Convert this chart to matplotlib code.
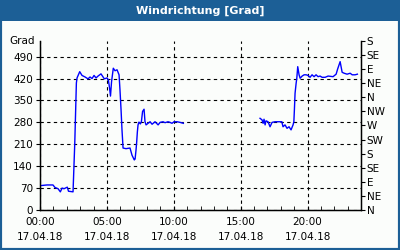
import matplotlib
matplotlib.use("Agg")
import matplotlib.pyplot as plt
import numpy as np
from matplotlib.patches import Rectangle

# hours since 00:00 and wind direction in degrees (NaN = gap)
hours = [0.05, 0.52, 0.97, 1.12, 1.35, 1.52, 1.65, 1.80, 2.04, 2.13, 2.47, 2.51, 2.60, 2.66, 2.72,
         2.77, 2.97, 3.14, 3.37, 3.59, 3.74, 3.89, 4.04, 4.19, 4.34, 4.56, 4.81, 5.01, 5.11, 5.20,
         5.27, 5.35, 5.48, 5.61, 5.76, 5.91, 5.98, 6.06, 6.13, 6.21, 6.43, 6.73, 6.88, 7.05, 7.11,
         7.18, 7.23, 7.28, 7.33, 7.40, 7.50, 7.58, 7.67, 7.78, 7.85, 7.93, 8.08, 8.23, 8.38, 8.60,
         8.83, 8.98, 9.20, 9.35, 9.57, 9.72, 9.87, 10.02, 10.25, 10.47, 10.72,
         13.5,
         16.45, 16.60, 16.68, 16.75, 16.83, 16.90, 17.05, 17.20, 17.35, 17.58, 17.80, 18.08, 18.17,
         18.32, 18.47, 18.62, 18.77, 18.92, 18.98, 19.02, 19.07, 19.15, 19.20, 19.27, 19.37, 19.45,
         19.60, 19.75, 19.90, 20.04, 20.19, 20.34, 20.49, 20.64, 20.79, 20.94, 21.09, 21.32, 21.54,
         21.91, 22.14, 22.25, 22.44, 22.59, 22.74, 22.96, 23.19, 23.34, 23.56, 23.73]
grad = [78, 80, 80, 72, 68, 58, 70, 68, 73, 60, 58, 106, 214, 310, 406,
        422, 442, 430, 425, 419, 425, 420, 430, 422, 428, 435, 419, 422, 416, 390,
        364, 410, 453, 445, 448, 432, 384, 320, 256, 198, 196, 198, 175, 160, 163,
        192, 218, 250, 272, 281, 275, 282, 315, 322, 282, 272, 277, 282, 274, 282,
        272, 280, 282, 279, 282, 280, 277, 282, 282, 280, 277,
        np.nan,
        293, 288, 277, 290, 272, 285, 282, 266, 280, 282, 282, 282, 266,
        272, 261, 266, 256, 272, 282, 320, 373, 405, 421, 458, 432, 421,
        428, 432, 432, 430, 424, 432, 426, 432, 426, 428, 424, 424, 428,
        426, 434, 450, 474, 440, 437, 434, 437, 432, 432, 434]

left_ticks = [0, 70, 140, 210, 280, 350, 420, 490]
right_ticks = list(range(0, 541, 45))
right_labels = ["N", "NE", "E", "SE", "S", "SW", "W", "NW", "N", "NE", "E", "SE", "S"]
x_ticks = [0, 5, 10, 15, 20]
x_labels = ["00:00\n17.04.18", "05:00\n17.04.18", "10:00\n17.04.18",
            "15:00\n17.04.18", "20:00\n17.04.18"]

frame_blue = "#1c5f96"
fs = 7.5

fig = plt.figure(figsize=(4, 2.5), dpi=100, facecolor="#fbfdfb")
# border and title bar
fig.patches.append(Rectangle((0, 0), 1, 1, transform=fig.transFigure, fill=False,
                             edgecolor=frame_blue, linewidth=3))
fig.patches.append(Rectangle((0, 0.915), 1, 0.085, transform=fig.transFigure,
                             facecolor=frame_blue, edgecolor="none"))
fig.text(0.5, 0.958, "Windrichtung [Grad]", color="white", fontsize=8, fontweight="bold",
         ha="center", va="center")

ax = fig.add_axes([0.1, 0.16, 0.8025, 0.676])
ax.set_facecolor("#fbfdfb")
ax.plot(hours, grad, color="#0000ff", linewidth=1)
ax.set_xlim(0, 24)
ax.set_ylim(0, 540)
ax.set_yticks(left_ticks)
ax.set_xticks(x_ticks)
ax.set_xticklabels(x_labels, fontsize=fs, linespacing=1.6)
ax.set_xticks(range(0, 25), minor=True)
ax.tick_params(axis="x", which="both", direction="in", length=3, pad=5)
ax.tick_params(axis="y", direction="out", length=3, labelsize=fs, pad=2)
ax.grid(True, color="black", linestyle=(0, (3, 3)), linewidth=0.8)
ax.spines["top"].set_visible(False)
for s in ["left", "bottom", "right"]:
    ax.spines[s].set_linewidth(1)
ax.text(-0.015, 1.0, "Grad", transform=ax.transAxes, ha="right", va="center", fontsize=fs)

ax2 = ax.twinx()
ax2.set_ylim(0, 540)
ax2.set_yticks(right_ticks)
ax2.set_yticklabels(right_labels, fontsize=fs)
ax2.tick_params(axis="y", direction="out", length=3, pad=1)
ax2.spines["top"].set_visible(False)

fig.savefig("out.png", dpi=100, facecolor=fig.get_facecolor())
